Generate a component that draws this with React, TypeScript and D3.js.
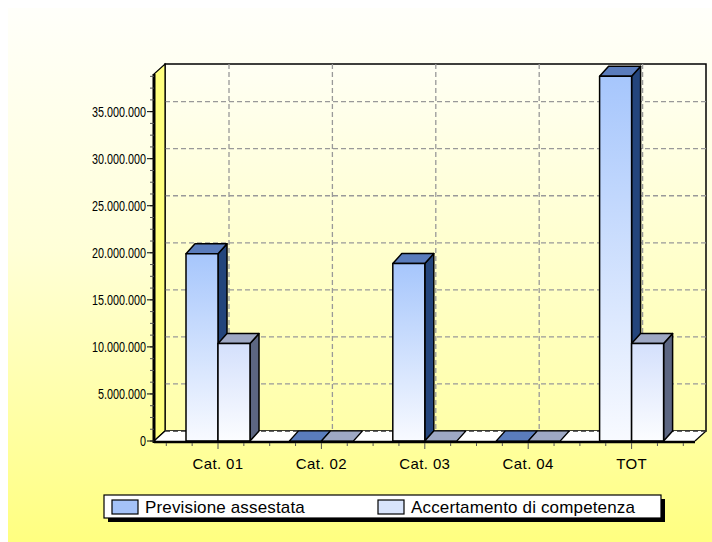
import React from "react";
import * as d3 from "d3";

const categories = ["Cat. 01", "Cat. 02", "Cat. 03", "Cat. 04", "TOT"];
const previsione = [19900000, 0, 18850000, 0, 38750000];
const accertamento = [10350000, 0, 0, 0, 10350000];
const seriesNames = ["Previsione assestata", "Accertamento di competenza"];
const yTicks = [0, 5000000, 10000000, 15000000, 20000000, 25000000, 30000000, 35000000];

const W = 712;
const H = 542;
const X0 = 154; // front left of plot
const X1 = 695; // front right of floor
const Y0 = 441; // front baseline
const YTOP = 74; // front top
const DX = 11;
const DY = -10;
const BDX = 9;
const BDY = -10;
const BAR_W = 32;

const locale = d3.formatLocale({ decimal: ",", thousands: ".", grouping: [3], currency: ["€", ""] });
const fmt = locale.format(",d");

const FONT = "'Liberation Sans', Arial, sans-serif";

export default function App() {
  const y = d3.scaleLinear().domain([0, 39000000]).range([Y0, YTOP]);
  const x = d3.scaleBand<string>().domain(categories).range([166.3, 683.3]).padding(0);
  const step = x.step();

  const minorY = d3.range(0, 39000000, 1250000);
  const xTickPos = d3.range(0, categories.length * 4 + 1).map((k) => 166.3 + (k * step) / 4);

  const series = [
    { vals: previsione, front: "gPrev", side: "#24457c", top: "#5a7cbc", offset: -1 },
    { vals: accertamento, front: "gAcc", side: "#5c6682", top: "#9ea8c4", offset: 0 },
  ];

  const bars: React.ReactNode[] = [];
  categories.forEach((c, i) => {
    const cx = (x(c) as number) + step / 2;
    series.forEach((s, si) => {
      const v = s.vals[i];
      const bx = cx + s.offset * BAR_W;
      const by = y(v);
      const key = `${i}-${si}`;
      if (v <= 0) {
        bars.push(
          <polygon
            key={key}
            points={`${bx},${Y0} ${bx + BDX},${Y0 + BDY} ${bx + BAR_W + BDX},${Y0 + BDY} ${bx + BAR_W},${Y0}`}
            fill={s.top}
            stroke="#000"
            strokeWidth={1.2}
            strokeLinejoin="round"
          />
        );
        return;
      }
      bars.push(
        <g key={key} stroke="#000" strokeWidth={1.5} strokeLinejoin="round">
          <polygon
            points={`${bx + BAR_W},${by} ${bx + BAR_W + BDX},${by + BDY} ${bx + BAR_W + BDX},${Y0 + BDY} ${bx + BAR_W},${Y0}`}
            fill={s.side}
          />
          <polygon
            points={`${bx},${by} ${bx + BDX},${by + BDY} ${bx + BAR_W + BDX},${by + BDY} ${bx + BAR_W},${by}`}
            fill={s.top}
          />
          <rect x={bx} y={by} width={BAR_W} height={Y0 - by} fill={`url(#${s.front})`} />
        </g>
      );
    });
  });

  return (
    <svg
      width={W}
      height={H}
      style={{ position: "absolute", left: 0, top: 0 }}
      fontFamily={FONT}
    >
      <defs>
        <linearGradient id="bg" x1="0" y1="0" x2="0" y2="1">
          <stop offset="0" stopColor="#fffffa" />
          <stop offset="0.45" stopColor="#ffffd8" />
          <stop offset="1" stopColor="#ffff80" />
        </linearGradient>
        <linearGradient id="wall" x1="0" y1="0" x2="0" y2="1">
          <stop offset="0" stopColor="#fffff4" />
          <stop offset="1" stopColor="#ffffa8" />
        </linearGradient>
        <linearGradient id="gPrev" x1="0" y1="0" x2="0" y2="1">
          <stop offset="0" stopColor="#a6c6fc" />
          <stop offset="1" stopColor="#f8faff" />
        </linearGradient>
        <linearGradient id="gAcc" x1="0" y1="0" x2="0" y2="1">
          <stop offset="0" stopColor="#d4e0fc" />
          <stop offset="1" stopColor="#fcfdff" />
        </linearGradient>
      </defs>
      <rect x={0} y={0} width={W} height={H} fill="#ffffff" />
      <rect x={8} y={8} width={W - 8} height={H - 8} fill="url(#bg)" />

      {/* back wall */}
      <rect x={X0 + DX} y={YTOP + DY} width={X1 - X0} height={Y0 - YTOP} fill="url(#wall)" stroke="#000" strokeWidth={1.5} />

      {/* horizontal grid */}
      {yTicks.filter((t) => t > 0).map((t) => (
        <line key={`hg${t}`} x1={X0 + DX} x2={X1 + DX} y1={y(t) + DY} y2={y(t) + DY} stroke="#999" strokeWidth={1.3} strokeDasharray="5,3" />
      ))}
      {/* vertical grid */}
      {categories.map((c) => {
        const gx = (x(c) as number) + step / 2 + DX;
        return <line key={`vg${c}`} x1={gx} x2={gx} y1={YTOP + DY} y2={Y0 + DY} stroke="#999" strokeWidth={1.3} strokeDasharray="5,3" />;
      })}

      {/* left wall */}
      <polygon
        points={`${X0},${Y0} ${X0},${YTOP} ${X0 + DX},${YTOP + DY} ${X0 + DX},${Y0 + DY}`}
        fill="#ffff80"
        stroke="#000"
        strokeWidth={1.2}
      />
      {/* floor */}
      <polygon
        points={`${X0},${Y0} ${X1},${Y0} ${X1 + DX},${Y0 + DY} ${X0 + DX},${Y0 + DY}`}
        fill="#ffffff"
        stroke="none"
      />
      <line x1={X0} y1={Y0} x2={X0 + DX} y2={Y0 + DY} stroke="#000" strokeWidth={1.2} />
      <line x1={X1} y1={Y0} x2={X1 + DX} y2={Y0 + DY} stroke="#000" strokeWidth={1.2} />
      <line x1={X0 + DX} x2={X1 + DX} y1={Y0 + DY} y2={Y0 + DY} stroke="#333" strokeWidth={1.3} strokeDasharray="5,3" />

      {bars}

      {/* front axis lines */}
      <line x1={X0} x2={X1} y1={Y0 + 1} y2={Y0 + 1} stroke="#000" strokeWidth={2.5} />
      <line x1={X0} x2={X0} y1={YTOP} y2={Y0 + 2} stroke="#000" strokeWidth={3} />

      {/* y minor ticks */}
      {minorY.map((t) => (
        <line key={`my${t}`} x1={X0 - 4} x2={X0} y1={y(t)} y2={y(t)} stroke="#555" strokeWidth={1} />
      ))}
      {/* y major ticks + labels */}
      {yTicks.map((t) => (
        <g key={`yt${t}`}>
          <line x1={X0 - 7} x2={X0} y1={y(t)} y2={y(t)} stroke="#000" strokeWidth={1} />
          <g transform={`translate(146,${y(t)}) scale(0.72,1)`}>
            <text x={0} y={0} dy="0.36em" textAnchor="end" fontSize={15} fill="#000">
              {fmt(t)}
            </text>
          </g>
        </g>
      ))}

      {/* x ticks */}
      {xTickPos.map((px, k) => (
        <line key={`xt${k}`} x1={px} x2={px} y1={Y0 + 2} y2={Y0 + (k % 4 === 2 ? 8 : 5)} stroke="#555" strokeWidth={1} />
      ))}
      {categories.map((c) => (
        <text key={`xl${c}`} x={(x(c) as number) + step / 2} y={464} dy="0.36em" textAnchor="middle" fontSize={15} fill="#000" letterSpacing={0.4}>
          {c}
        </text>
      ))}

      {/* legend */}
      <rect x={108} y={499} width={557} height={23} fill="#000" />
      <rect x={104} y={495} width={557} height={23} fill="#fff" stroke="#000" strokeWidth={1.2} />
      <rect x={112} y={500} width={26} height={14} fill="#a4c2f8" stroke="#000" strokeWidth={1.2} />
      <text x={145} y={507} dy="0.36em" fontSize={17} fill="#000" letterSpacing={0.15}>{seriesNames[0]}</text>
      <rect x={378} y={500} width={26} height={14} fill="#d8e4fc" stroke="#000" strokeWidth={1.2} />
      <text x={411} y={507} dy="0.36em" fontSize={17} fill="#000" letterSpacing={0.15}>{seriesNames[1]}</text>
    </svg>
  );
}
